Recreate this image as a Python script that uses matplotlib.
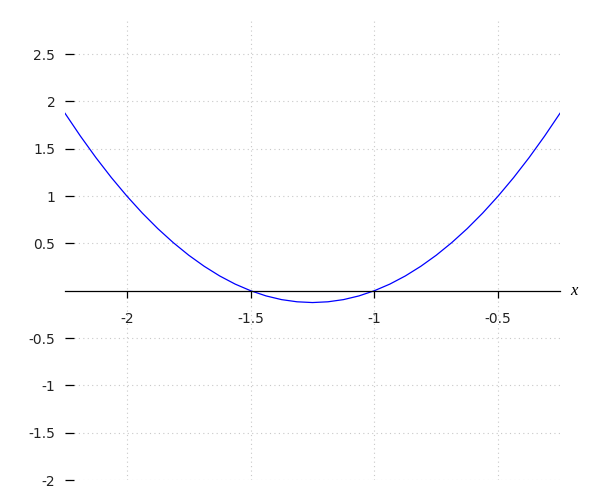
import matplotlib
matplotlib.use("Agg")
import matplotlib.pyplot as plt
import matplotlib.transforms as mtransforms

# curve samples
x_vals = [-2.25, -2.1875, -2.125, -2.0625, -2.0, -1.9375, -1.875, -1.8125,
          -1.75, -1.6875, -1.625, -1.5625, -1.5, -1.4375, -1.375, -1.3125,
          -1.25, -1.1875, -1.125, -1.0625, -1.0, -0.9375, -0.875, -0.8125,
          -0.75, -0.6875, -0.625, -0.5625, -0.5, -0.4375, -0.375, -0.3125, -0.25]
y_vals = [1.875, 1.633, 1.406, 1.195, 1.0, 0.820, 0.656, 0.508,
          0.375, 0.258, 0.156, 0.070, 0.0, -0.055, -0.094, -0.117,
          -0.125, -0.117, -0.094, -0.055, 0.0, 0.070, 0.156, 0.258,
          0.375, 0.508, 0.656, 0.820, 1.0, 1.195, 1.406, 1.633, 1.875]

x_ticks = [-2, -1.5, -1, -0.5]
x_labels = ["-2", "-1.5", "-1", "-0.5"]
y_ticks = [2.5, 2, 1.5, 1, 0.5, -0.5, -1, -1.5, -2]
y_labels = ["2.5", "2", "1.5", "1", "0.5", "-0.5", "-1", "-1.5", "-2"]

fig = plt.figure(figsize=(6, 5), dpi=100)
ax = fig.add_axes([65 / 600, 20 / 500, 495 / 600, 459 / 500])

ax.plot(x_vals, y_vals, color="blue", linewidth=0.9)

ax.set_xlim(-2.25, -0.25)
ax.set_ylim(-2, 2.85)

for s in ["top", "right", "left"]:
    ax.spines[s].set_visible(False)
ax.spines["bottom"].set_position(("data", 0))
ax.spines["bottom"].set_linewidth(0.9)

ax.set_xticks(x_ticks)
ax.set_xticklabels(x_labels)
ax.set_yticks(y_ticks)
ax.set_yticklabels(y_labels)

ax.tick_params(axis="x", direction="out", length=5, width=0.9, pad=10,
               labelsize=10, colors="black", labelcolor="#222222")
ax.tick_params(axis="y", direction="in", length=6.5, width=0.9, pad=7,
               labelsize=10, colors="black", labelcolor="#222222")

ax.grid(True, color="#c8c8c8", linestyle=(0, (1, 3)), linewidth=0.8)
ax.set_axisbelow(True)

trans = mtransforms.blended_transform_factory(ax.transAxes, ax.transData)
ax.text(1.02, 0, "x", transform=trans, ha="left", va="center",
        fontsize=12, fontstyle="italic", family="Liberation Serif", clip_on=False)

fig.savefig("out.png", dpi=100)
